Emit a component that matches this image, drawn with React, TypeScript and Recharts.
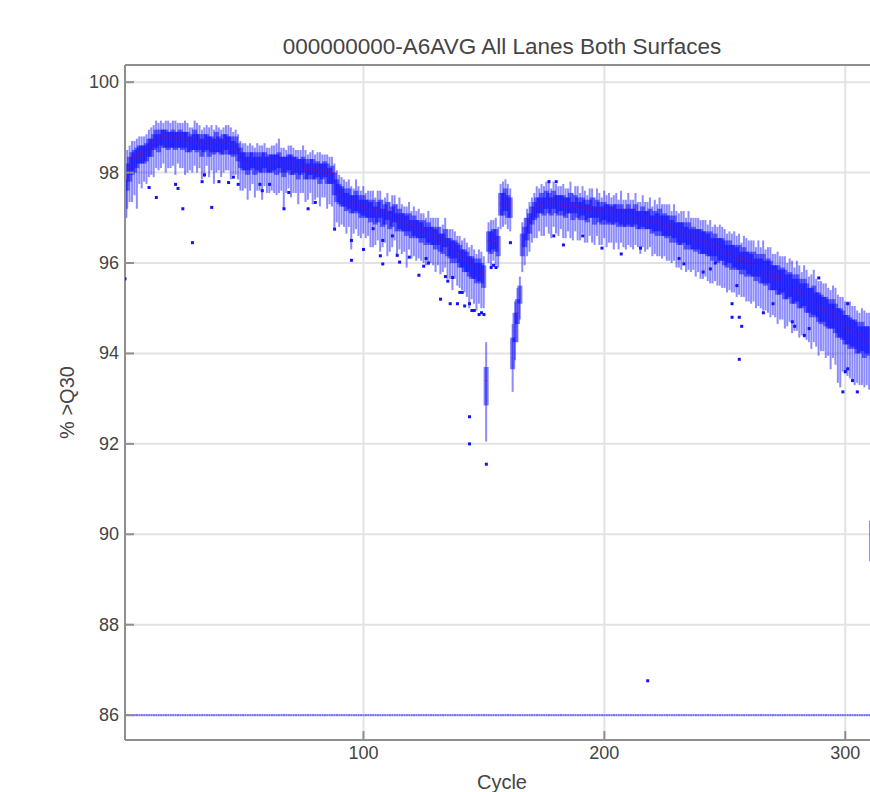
import React from "react";
import {
  ComposedChart,
  Bar,
  Scatter,
  XAxis,
  YAxis,
  CartesianGrid,
  ReferenceLine,
} from "recharts";

const title = "000000000-A6AVG All Lanes Both Surfaces";
const xTicks = [100, 200, 300];
const yTicks = [86, 88, 90, 92, 94, 96, 98, 100];
const xDomain = [1, 314];
const yDomain = [85.45, 100.38];

// median % >Q30 per cycle (cycles 1..311)
const medians = [
  97.4, 97.9, 98.1, 98.2, 98.3, 98.35, 98.4, 98.45, 98.4, 98.5,
  98.55, 98.6, 98.7, 98.75, 98.7, 98.8, 98.75, 98.8, 98.7, 98.75,
  98.8, 98.7, 98.75, 98.8, 98.7, 98.75, 98.7, 98.65, 98.7, 98.75,
  98.65, 98.7, 98.6, 98.65, 98.7, 98.6, 98.65, 98.6, 98.7, 98.65,
  98.6, 98.65, 98.7, 98.6, 98.65, 98.55, 98.6, 98.5, 98.35, 98.25,
  98.25, 98.2, 98.25, 98.3, 98.2, 98.25, 98.2, 98.25, 98.3, 98.2,
  98.25, 98.2, 98.25, 98.2, 98.3, 98.2, 98.15, 98.2, 98.25, 98.2,
  98.15, 98.2, 98.1, 98.15, 98.2, 98.1, 98.05, 98.15, 98.1, 98.05,
  98.1, 98.0, 98.05, 98.1, 98.0, 97.95, 98.0, 97.8, 97.6, 97.55,
  97.5, 97.45, 97.4, 97.45, 97.3, 97.35, 97.4, 97.3, 97.25, 97.3,
  97.2, 97.25, 97.15, 97.2, 97.1, 97.15, 97.2, 97.05, 97.1, 97.15,
  97.0, 97.05, 97.1, 96.95, 97.0, 96.9, 96.95, 96.85, 96.9, 96.8,
  96.85, 96.75, 96.8, 96.7, 96.75, 96.65, 96.7, 96.6, 96.65, 96.55,
  96.6, 96.5, 96.45, 96.55, 96.4, 96.35, 96.3, 96.35, 96.25, 96.2,
  96.15, 96.1, 96.05, 96.0, 95.95, 95.9, 95.85, 95.9, 95.8, 95.75,
  93.4, 96.5, 96.45, 96.55, 96.5, 96.4, 97.3, 97.35, 97.4, 97.3,
  97.25, 93.9, 94.5, 94.9, 95.3, 96.4, 96.6, 96.8, 96.9, 97.1,
  97.2, 97.25, 97.3, 97.35, 97.3, 97.4, 97.35, 97.3, 97.4, 97.35,
  97.3, 97.35, 97.3, 97.25, 97.3, 97.35, 97.2, 97.3, 97.25, 97.2,
  97.25, 97.2, 97.15, 97.2, 97.25, 97.1, 97.2, 97.15, 97.1, 97.15,
  97.1, 97.15, 97.05, 97.1, 97.15, 97.0, 97.1, 97.05, 97.0, 97.1,
  97.05, 97.0, 97.1, 97.0, 96.95, 97.05, 97.0, 96.95, 97.0, 96.9,
  96.95, 96.9, 96.95, 96.85, 96.9, 96.8, 96.85, 96.75, 96.8, 96.7,
  96.7, 96.65, 96.7, 96.6, 96.65, 96.55, 96.6, 96.5, 96.55, 96.5,
  96.45, 96.5, 96.4, 96.45, 96.35, 96.4, 96.3, 96.35, 96.3, 96.25,
  96.2, 96.25, 96.15, 96.2, 96.1, 96.15, 96.05, 96.1, 96.0, 96.05,
  95.95, 96.0, 95.9, 95.95, 95.85, 95.9, 95.8, 95.85, 95.75, 95.7,
  95.7, 95.65, 95.6, 95.65, 95.55, 95.5, 95.55, 95.45, 95.4, 95.45,
  95.35, 95.3, 95.35, 95.25, 95.2, 95.15, 95.2, 95.1, 95.05, 95.0,
  95.0, 94.95, 94.9, 94.85, 94.9, 94.8, 94.75, 94.7, 94.65, 94.6,
  94.55, 94.5, 94.5, 94.45, 94.4, 94.35, 94.4, 94.3, 94.35, 94.3,
  89.85,
];

// median - Q1
const boxBelow = [
  0.4, 0.3, 0.3, 0.25, 0.3, 0.25, 0.2, 0.25, 0.2, 0.25,
  0.2, 0.25, 0.2, 0.2, 0.25, 0.2, 0.2, 0.25, 0.2, 0.2,
  0.25, 0.2, 0.2, 0.25, 0.2, 0.2, 0.25, 0.2, 0.2, 0.25,
  0.2, 0.2, 0.25, 0.2, 0.2, 0.25, 0.2, 0.2, 0.25, 0.2,
  0.2, 0.25, 0.2, 0.2, 0.25, 0.2, 0.2, 0.25, 0.25, 0.2,
  0.2, 0.25, 0.2, 0.2, 0.25, 0.2, 0.2, 0.25, 0.2, 0.2,
  0.25, 0.2, 0.2, 0.25, 0.2, 0.2, 0.25, 0.2, 0.2, 0.25,
  0.2, 0.2, 0.25, 0.2, 0.2, 0.25, 0.2, 0.2, 0.25, 0.2,
  0.2, 0.25, 0.2, 0.2, 0.25, 0.2, 0.25, 0.3, 0.25, 0.25,
  0.25, 0.2, 0.25, 0.25, 0.2, 0.25, 0.25, 0.2, 0.25, 0.25,
  0.2, 0.25, 0.25, 0.2, 0.25, 0.25, 0.2, 0.25, 0.25, 0.2,
  0.25, 0.25, 0.2, 0.25, 0.25, 0.2, 0.25, 0.25, 0.2, 0.25,
  0.25, 0.2, 0.25, 0.25, 0.2, 0.25, 0.25, 0.2, 0.25, 0.25,
  0.2, 0.25, 0.25, 0.2, 0.25, 0.25, 0.3, 0.25, 0.25, 0.3,
  0.25, 0.3, 0.25, 0.3, 0.3, 0.25, 0.3, 0.3, 0.25, 0.3,
  0.55, 0.25, 0.25, 0.25, 0.25, 0.25, 0.25, 0.3, 0.25, 0.3,
  0.25, 0.25, 0.25, 0.25, 0.2, 0.25, 0.25, 0.3, 0.25, 0.25,
  0.25, 0.25, 0.2, 0.25, 0.25, 0.2, 0.25, 0.25, 0.2, 0.25,
  0.25, 0.2, 0.25, 0.25, 0.2, 0.25, 0.25, 0.2, 0.25, 0.25,
  0.2, 0.25, 0.25, 0.2, 0.25, 0.25, 0.2, 0.25, 0.25, 0.2,
  0.25, 0.25, 0.2, 0.25, 0.25, 0.2, 0.25, 0.25, 0.2, 0.25,
  0.25, 0.2, 0.25, 0.25, 0.2, 0.25, 0.25, 0.2, 0.25, 0.25,
  0.25, 0.3, 0.25, 0.25, 0.3, 0.25, 0.25, 0.3, 0.25, 0.25,
  0.3, 0.25, 0.25, 0.3, 0.25, 0.25, 0.3, 0.25, 0.25, 0.3,
  0.25, 0.3, 0.25, 0.3, 0.3, 0.25, 0.3, 0.3, 0.25, 0.3,
  0.3, 0.25, 0.3, 0.3, 0.25, 0.3, 0.3, 0.25, 0.3, 0.3,
  0.25, 0.3, 0.3, 0.25, 0.3, 0.35, 0.3, 0.3, 0.35, 0.3,
  0.3, 0.35, 0.3, 0.3, 0.35, 0.3, 0.3, 0.35, 0.3, 0.3,
  0.35, 0.3, 0.3, 0.35, 0.3, 0.35, 0.35, 0.3, 0.35, 0.35,
  0.3, 0.35, 0.35, 0.3, 0.35, 0.35, 0.4, 0.35, 0.35, 0.4,
  0.35, 0.4, 0.35, 0.35, 0.4, 0.35, 0.35, 0.4, 0.35, 0.35,
  0.45,
];

// Q3 - median
const boxAbove = [
  0.45, 0.3, 0.25, 0.25, 0.2, 0.2, 0.2, 0.15, 0.2, 0.15,
  0.2, 0.15, 0.15, 0.2, 0.15, 0.15, 0.2, 0.15, 0.2, 0.15,
  0.15, 0.2, 0.15, 0.15, 0.2, 0.15, 0.2, 0.15, 0.15, 0.2,
  0.2, 0.15, 0.15, 0.2, 0.15, 0.2, 0.15, 0.15, 0.2, 0.15,
  0.15, 0.2, 0.15, 0.2, 0.15, 0.15, 0.2, 0.15, 0.2, 0.2,
  0.2, 0.15, 0.2, 0.15, 0.15, 0.2, 0.15, 0.2, 0.15, 0.15,
  0.15, 0.2, 0.15, 0.2, 0.15, 0.15, 0.2, 0.15, 0.15, 0.2,
  0.2, 0.15, 0.2, 0.15, 0.15, 0.2, 0.15, 0.15, 0.2, 0.15,
  0.15, 0.2, 0.15, 0.15, 0.2, 0.15, 0.15, 0.2, 0.25, 0.2,
  0.2, 0.2, 0.15, 0.2, 0.2, 0.15, 0.2, 0.2, 0.15, 0.2,
  0.2, 0.15, 0.2, 0.2, 0.15, 0.2, 0.2, 0.15, 0.2, 0.2,
  0.15, 0.2, 0.2, 0.15, 0.2, 0.2, 0.15, 0.2, 0.2, 0.15,
  0.2, 0.2, 0.15, 0.2, 0.2, 0.15, 0.2, 0.2, 0.15, 0.2,
  0.2, 0.15, 0.2, 0.2, 0.15, 0.2, 0.2, 0.15, 0.2, 0.2,
  0.15, 0.2, 0.2, 0.15, 0.2, 0.2, 0.15, 0.2, 0.2, 0.2,
  0.3, 0.2, 0.25, 0.2, 0.25, 0.2, 0.25, 0.2, 0.25, 0.2,
  0.2, 0.45, 0.4, 0.3, 0.2, 0.25, 0.2, 0.2, 0.2, 0.15,
  0.15, 0.2, 0.15, 0.2, 0.15, 0.2, 0.2, 0.15, 0.2, 0.15,
  0.2, 0.15, 0.2, 0.2, 0.15, 0.2, 0.15, 0.2, 0.2, 0.15,
  0.2, 0.2, 0.15, 0.2, 0.2, 0.15, 0.2, 0.2, 0.15, 0.2,
  0.2, 0.15, 0.2, 0.2, 0.15, 0.2, 0.2, 0.15, 0.2, 0.2,
  0.15, 0.2, 0.2, 0.15, 0.2, 0.2, 0.15, 0.2, 0.2, 0.15,
  0.2, 0.2, 0.25, 0.2, 0.2, 0.25, 0.2, 0.2, 0.25, 0.2,
  0.2, 0.25, 0.2, 0.2, 0.25, 0.2, 0.2, 0.25, 0.2, 0.25,
  0.25, 0.2, 0.25, 0.25, 0.2, 0.25, 0.25, 0.2, 0.25, 0.25,
  0.2, 0.25, 0.25, 0.2, 0.25, 0.25, 0.2, 0.25, 0.25, 0.2,
  0.25, 0.25, 0.2, 0.25, 0.25, 0.3, 0.25, 0.25, 0.3, 0.25,
  0.25, 0.3, 0.25, 0.25, 0.3, 0.25, 0.25, 0.3, 0.25, 0.3,
  0.3, 0.25, 0.3, 0.3, 0.25, 0.3, 0.3, 0.25, 0.3, 0.3,
  0.25, 0.3, 0.3, 0.25, 0.3, 0.3, 0.25, 0.3, 0.3, 0.25,
  0.3, 0.3, 0.25, 0.3, 0.3, 0.25, 0.3, 0.3, 0.25, 0.3,
  0.45,
];

// Q1 - lower whisker
const whiskerBelow = [
  0.5, 0.4, 0.45, 0.6, 0.5, 0.9, 0.45, 0.55, 0.4, 0.5,
  0.45, 0.4, 0.6, 0.45, 0.4, 0.5, 0.35, 0.55, 0.4, 0.45,
  0.4, 0.55, 0.35, 0.45, 0.4, 0.6, 0.45, 0.4, 0.5, 0.35,
  0.45, 0.4, 0.5, 0.55, 0.35, 0.45, 0.4, 0.65, 0.45, 0.4,
  0.5, 0.4, 0.45, 0.35, 0.55, 0.4, 0.45, 0.4, 0.5, 0.45,
  0.4, 0.55, 0.45, 0.35, 0.5, 0.45, 0.4, 0.6, 0.4, 0.45,
  0.45, 0.4, 0.5, 0.45, 0.55, 0.4, 0.7, 0.45, 0.4, 0.5,
  0.4, 0.45, 0.55, 0.4, 0.45, 0.5, 0.45, 0.4, 0.55, 0.45,
  0.45, 0.5, 0.4, 0.45, 0.55, 0.45, 0.5, 0.75, 0.45, 0.5,
  0.4, 0.45, 0.5, 0.4, 0.8, 0.45, 0.4, 0.5, 0.45, 0.4,
  0.45, 0.4, 0.55, 0.65, 0.45, 0.4, 0.75, 0.45, 0.4, 0.8,
  0.5, 0.45, 0.4, 0.55, 0.45, 0.5, 0.45, 0.7, 0.4, 0.45,
  0.45, 0.5, 0.45, 0.4, 0.55, 0.45, 0.5, 0.4, 0.45, 0.5,
  0.45, 0.5, 0.4, 0.45, 0.5, 0.45, 0.6, 0.45, 0.5, 0.45,
  0.5, 0.45, 0.55, 0.7, 0.45, 0.55, 0.6, 0.5, 0.55, 0.45,
  0.8, 0.25, 0.3, 0.25, 0.3, 0.25, 0.3, 0.25, 0.3, 0.25,
  0.3, 0.5, 0.4, 0.4, 0.35, 0.35, 0.4, 0.35, 0.4, 0.4,
  0.4, 0.45, 0.4, 0.5, 0.45, 0.4, 0.45, 0.5, 0.4, 0.45,
  0.45, 0.4, 0.5, 0.45, 0.4, 0.55, 0.45, 0.4, 0.5, 0.45,
  0.4, 0.5, 0.45, 0.4, 0.55, 0.45, 0.4, 0.5, 0.45, 0.4,
  0.5, 0.45, 0.4, 0.55, 0.45, 0.5, 0.4, 0.45, 0.5, 0.45,
  0.45, 0.5, 0.45, 0.4, 0.55, 0.45, 0.5, 0.45, 0.4, 0.5,
  0.5, 0.45, 0.55, 0.5, 0.45, 0.5, 0.55, 0.45, 0.5, 0.55,
  0.5, 0.55, 0.45, 0.5, 0.55, 0.5, 0.45, 0.55, 0.5, 0.55,
  0.55, 0.5, 0.55, 0.6, 0.5, 0.55, 0.5, 0.55, 0.6, 0.5,
  0.55, 0.6, 0.5, 0.55, 0.6, 0.55, 0.5, 0.6, 0.55, 0.6,
  0.6, 0.55, 0.6, 0.65, 0.55, 0.6, 0.55, 0.65, 0.6, 0.55,
  0.6, 0.65, 0.55, 0.6, 0.65, 0.6, 0.55, 0.65, 0.6, 0.65,
  0.65, 0.6, 0.7, 0.6, 0.65, 0.7, 0.6, 0.65, 0.75, 0.6,
  0.65, 0.7, 0.6, 0.9, 0.65, 0.7, 1.0, 1.1, 0.7, 0.65,
  0.7, 0.65, 0.75, 0.8, 0.65, 0.7, 0.75, 0.65, 0.7, 0.75,
  0.4,
];

// upper whisker - Q3
const whiskerAbove = [
  0.45, 0.3, 0.25, 0.25, 0.2, 0.2, 0.2, 0.2, 0.2, 0.2,
  0.2, 0.25, 0.2, 0.2, 0.25, 0.2, 0.15, 0.2, 0.25, 0.2,
  0.2, 0.25, 0.2, 0.15, 0.2, 0.25, 0.2, 0.2, 0.15, 0.2,
  0.25, 0.2, 0.2, 0.15, 0.2, 0.2, 0.25, 0.2, 0.15, 0.2,
  0.2, 0.15, 0.2, 0.25, 0.2, 0.2, 0.15, 0.2, 0.15, 0.2,
  0.2, 0.25, 0.2, 0.15, 0.2, 0.2, 0.25, 0.15, 0.2, 0.2,
  0.15, 0.2, 0.2, 0.25, 0.3, 0.2, 0.2, 0.15, 0.2, 0.2,
  0.2, 0.15, 0.2, 0.2, 0.25, 0.2, 0.2, 0.15, 0.2, 0.2,
  0.2, 0.25, 0.2, 0.15, 0.2, 0.25, 0.2, 0.2, 0.2, 0.2,
  0.2, 0.2, 0.25, 0.2, 0.2, 0.15, 0.25, 0.2, 0.2, 0.2,
  0.15, 0.2, 0.25, 0.2, 0.2, 0.25, 0.2, 0.2, 0.15, 0.2,
  0.2, 0.25, 0.2, 0.2, 0.25, 0.2, 0.15, 0.2, 0.25, 0.2,
  0.2, 0.2, 0.25, 0.2, 0.15, 0.2, 0.25, 0.2, 0.2, 0.25,
  0.2, 0.15, 0.2, 0.25, 0.2, 0.2, 0.25, 0.2, 0.15, 0.2,
  0.2, 0.25, 0.2, 0.2, 0.25, 0.2, 0.2, 0.2, 0.25, 0.2,
  0.55, 0.2, 0.25, 0.2, 0.25, 0.2, 0.2, 0.25, 0.2, 0.25,
  0.2, 0.3, 0.25, 0.25, 0.2, 0.25, 0.2, 0.2, 0.25, 0.2,
  0.2, 0.25, 0.2, 0.2, 0.25, 0.2, 0.25, 0.2, 0.2, 0.25,
  0.2, 0.2, 0.25, 0.2, 0.2, 0.25, 0.2, 0.2, 0.25, 0.2,
  0.25, 0.2, 0.2, 0.25, 0.2, 0.2, 0.25, 0.2, 0.2, 0.25,
  0.2, 0.25, 0.2, 0.2, 0.25, 0.2, 0.3, 0.2, 0.2, 0.25,
  0.2, 0.2, 0.25, 0.2, 0.2, 0.25, 0.2, 0.2, 0.25, 0.2,
  0.25, 0.2, 0.25, 0.25, 0.2, 0.25, 0.25, 0.2, 0.25, 0.25,
  0.2, 0.25, 0.25, 0.2, 0.25, 0.25, 0.2, 0.25, 0.25, 0.2,
  0.25, 0.25, 0.2, 0.25, 0.25, 0.2, 0.25, 0.3, 0.25, 0.25,
  0.25, 0.2, 0.25, 0.3, 0.25, 0.25, 0.2, 0.25, 0.3, 0.25,
  0.3, 0.25, 0.25, 0.3, 0.25, 0.3, 0.25, 0.25, 0.3, 0.25,
  0.25, 0.3, 0.3, 0.25, 0.3, 0.25, 0.3, 0.3, 0.25, 0.3,
  0.3, 0.25, 0.3, 0.3, 0.25, 0.3, 0.35, 0.3, 0.25, 0.3,
  0.3, 0.3, 0.25, 0.3, 0.3, 0.35, 0.3, 0.25, 0.3, 0.3,
  0.3, 0.35, 0.3, 0.3, 0.25, 0.3, 0.3, 0.35, 0.3, 0.3,
  0.4,
];

// single tiles outside the whiskers
const outlierCycles = [
  1, 11, 14, 22, 23, 25, 29, 33, 34, 37, 40, 44, 46, 48, 57, 58, 61, 67, 69, 77,
  80, 88, 95, 95, 100, 104, 107, 108, 108, 112, 114, 115, 119, 123, 125, 126, 127, 132, 134, 135,
  136, 137, 139, 140, 141, 142, 144, 144, 144, 145, 146, 148, 149, 150, 151, 153, 154, 155, 161, 177,
  180, 179, 183, 191, 199, 207, 215, 218, 231, 233, 241, 244, 246, 253, 253, 255, 256, 256, 257, 266,
  270, 278, 279, 283, 285, 289, 299, 300, 301, 301, 303, 305,
];
const outlierValues = [
  95.65, 97.67, 97.45, 97.74, 97.65, 97.2, 96.45, 97.8, 97.95, 97.23, 97.8, 97.78, 97.9, 97.74, 97.74, 97.6, 97.74, 97.2, 97.56, 97.2,
  97.34, 96.75, 96.5, 96.06, 96.3, 96.76, 96.16, 95.98, 96.5, 96.6, 96.17, 96.02, 96.13, 95.73, 95.93, 96.1, 96.0, 95.2, 95.7, 95.6,
  95.1, 95.68, 95.1, 95.35, 95.35, 95.05, 92.6, 92.0, 95.1, 94.95, 94.95, 94.86, 94.9, 94.86, 91.55, 95.9, 95.95, 95.9, 96.45, 97.8,
  97.8, 96.6, 96.4, 96.6, 96.33, 96.2, 96.33, 86.76, 96.1, 95.98, 95.8, 95.87, 96.0, 95.1, 94.8, 95.5, 94.8, 93.87, 94.6, 94.9,
  95.1, 94.7, 94.6, 94.4, 94.55, 95.67, 93.15, 93.6, 93.66, 95.1, 93.4, 93.15,
];

// tiles below the axis minimum are pinned to the bottom gridline
const floorValue = 86;

const cycles = medians.map((_, i) => i + 1);

const boxRows = cycles.map((cycle, i) => {
  const med = medians[i];
  const q1 = med - boxBelow[i];
  const q3 = med + boxAbove[i];
  return {
    cycle,
    med,
    q1,
    q3,
    range: [q1 - whiskerBelow[i], q3 + whiskerAbove[i]],
  };
});

const outlierRows = outlierCycles.map((cycle, i) => ({
  cycle,
  value: outlierValues[i],
}));

const floorRows = cycles.map((cycle) => ({ cycle, value: floorValue }));

const AXIS = "#8f8f8f";
const TEXT = "#444";

function BoxShape(props: any) {
  const { x, y, width, height, payload } = props;
  if (!payload || height == null || isNaN(y)) return null;
  const [lo, hi] = payload.range;
  const top = Math.min(y, y + height);
  const h = Math.abs(height);
  const py = (v: number) => top + ((hi - v) / (hi - lo)) * h;
  const cx = x + width / 2;
  return (
    <g>
      <rect x={cx - 1} y={top} width={2} height={h} fill="#0000ff" fillOpacity={0.45} />
      <rect
        x={cx - 2.5}
        y={py(payload.q3)}
        width={5}
        height={py(payload.q1) - py(payload.q3)}
        fill="#0000ff"
        fillOpacity={0.5}
      />
      <line
        x1={cx - 1.5}
        x2={cx + 1.5}
        y1={py(payload.med)}
        y2={py(payload.med)}
        stroke="#ff0000"
        strokeOpacity={0.45}
      />
    </g>
  );
}

const OutlierDot = ({ cx, cy }: any) => (
  <rect x={cx - 1.5} y={cy - 1.5} width={3} height={3} fill="#1212ff" />
);

const FloorDot = ({ cx, cy }: any) => (
  <rect x={cx - 1} y={cy - 1} width={2} height={2} fill="#3a3aff" fillOpacity={0.7} />
);

const YTick = ({ x, y, payload }: any) => (
  <g>
    <line x1={x} x2={x + 9} y1={y} y2={y} stroke={AXIS} strokeWidth={2} />
    <text x={x - 6} y={y} textAnchor="end" dominantBaseline="central" fontSize={18} fill={TEXT}>
      {payload.value}
    </text>
  </g>
);

const XTick = ({ x, y, payload }: any) => (
  <g>
    <line x1={x} x2={x} y1={y} y2={y - 9} stroke={AXIS} strokeWidth={2} />
    <text x={x} y={y + 13} textAnchor="middle" dominantBaseline="central" fontSize={18} fill={TEXT}>
      {payload.value}
    </text>
  </g>
);

export default function App() {
  return (
    <div
      style={{
        position: "absolute",
        left: 8,
        top: 8,
        width: 862,
        height: 784,
        overflow: "hidden",
        fontFamily: "'Liberation Sans', Arial, sans-serif",
      }}
    >
      <div
        style={{
          position: "absolute",
          left: 117,
          width: 754,
          top: 28,
          fontSize: 22.5,
          lineHeight: "22px",
          textAlign: "center",
          color: TEXT,
          whiteSpace: "nowrap",
        }}
      >
        {title}
      </div>
      <ComposedChart
        width={871}
        height={784}
        data={boxRows}
        margin={{ top: 57, right: 0, bottom: 0, left: 0 }}
      >
        <CartesianGrid stroke="#e3e3e3" strokeWidth={2} />
        <XAxis
          dataKey="cycle"
          type="number"
          domain={xDomain}
          ticks={xTicks}
          allowDataOverflow
          interval={0}
          height={52}
          tickLine={false}
          tickSize={0}
          tickMargin={0}
          tick={<XTick />}
          axisLine={{ stroke: AXIS, strokeWidth: 2 }}
          label={{ value: "Cycle", position: "center", dy: 16, fontSize: 20, fill: TEXT }}
        />
        <YAxis
          type="number"
          domain={yDomain}
          ticks={yTicks}
          allowDataOverflow
          interval={0}
          width={117}
          tickLine={false}
          tickSize={0}
          tickMargin={0}
          tick={<YTick />}
          axisLine={{ stroke: AXIS, strokeWidth: 2 }}
          label={{ value: "% >Q30", angle: -90, position: "center", fontSize: 20, fill: TEXT }}
        />
        <ReferenceLine y={yDomain[1]} stroke={AXIS} strokeWidth={2} />
        <Bar dataKey="range" barSize={2} shape={<BoxShape />} isAnimationActive={false} />
        <Scatter data={floorRows} dataKey="value" shape={<FloorDot />} isAnimationActive={false} />
        <Scatter data={outlierRows} dataKey="value" shape={<OutlierDot />} isAnimationActive={false} />
      </ComposedChart>
    </div>
  );
}
